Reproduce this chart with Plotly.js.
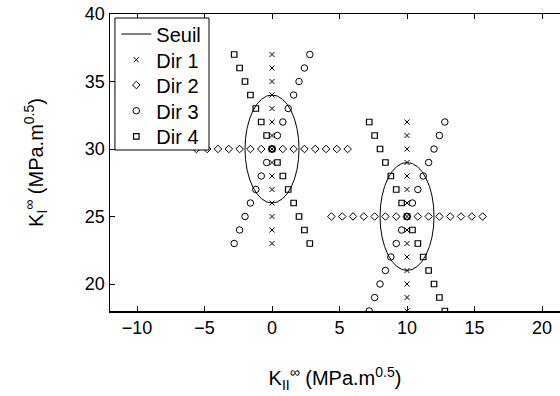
<!DOCTYPE html>
<html>
<head>
<meta charset="utf-8">
<script src="https://cdn.plot.ly/plotly-3.0.1.min.js"></script>
<style>
  html, body { margin: 0; padding: 0; background: #fff; }
  #chart { width: 560px; height: 396px; }
</style>
</head>
<body>
<div id="chart"></div>
<script>
// Threshold ellipses ("Seuil"): centres and semi-axes
const seuilCx = [0, 10];
const seuilCy = [30, 25];
const seuilA = [2, 2];
const seuilB = [4, 4];

// Dir 1 (vertical)
const dir1X = [0,0,0,0,0,0,0,0,0,0,0,0,0,0,0,
               10,10,10,10,10,10,10,10,10,10,10,10,10,10,10];
const dir1Y = [23,24,25,26,27,28,29,30,31,32,33,34,35,36,37,
               18,19,20,21,22,23,24,25,26,27,28,29,30,31,32];

// Dir 2 (horizontal)
const dir2X = [-5.6,-4.8,-4.0,-3.2,-2.4,-1.6,-0.8,0,0.8,1.6,2.4,3.2,4.0,4.8,5.6,
               4.4,5.2,6.0,6.8,7.6,8.4,9.2,10,10.8,11.6,12.4,13.2,14.0,14.8,15.6];
const dir2Y = [30,30,30,30,30,30,30,30,30,30,30,30,30,30,30,
               25,25,25,25,25,25,25,25,25,25,25,25,25,25,25];

// Dir 3 (oblique, rising to the right)
const dir3X = [-2.8,-2.4,-2.0,-1.6,-1.2,-0.8,-0.4,0,0.4,0.8,1.2,1.6,2.0,2.4,2.8,
               7.2,7.6,8.0,8.4,8.8,9.2,9.6,10,10.4,10.8,11.2,11.6,12.0,12.4,12.8];
const dir3Y = [23,24,25,26,27,28,29,30,31,32,33,34,35,36,37,
               18,19,20,21,22,23,24,25,26,27,28,29,30,31,32];

// Dir 4 (oblique, rising to the left)
const dir4X = [2.8,2.4,2.0,1.6,1.2,0.8,0.4,0,-0.4,-0.8,-1.2,-1.6,-2.0,-2.4,-2.8,
               12.8,12.4,12.0,11.6,11.2,10.8,10.4,10,9.6,9.2,8.8,8.4,8.0,7.6,7.2];
const dir4Y = [23,24,25,26,27,28,29,30,31,32,33,34,35,36,37,
               18,19,20,21,22,23,24,25,26,27,28,29,30,31,32];

const seriesNames = ['Seuil', 'Dir 1', 'Dir 2', 'Dir 3', 'Dir 4'];
const xTicks = [-10, -5, 0, 5, 10, 15, 20];
const yTicks = [20, 25, 30, 35, 40];

const FONT = 'Liberation Sans, Arial, Helvetica, sans-serif';

const traces = [
  { x: [null], y: [null], mode: 'lines', name: seriesNames[0], legend: 'legend',
    line: { color: '#000', width: 1 } },
  { x: dir1X, y: dir1Y, mode: 'markers', name: seriesNames[1], legend: 'legend2',
    marker: { symbol: 'x-thin-open', size: 5, color: '#000', line: { color: '#000', width: 1 } } },
  { x: dir2X, y: dir2Y, mode: 'markers', name: seriesNames[2], legend: 'legend3',
    marker: { symbol: 'diamond-open', size: 5.8, color: '#000', line: { color: '#000', width: 1 } } },
  { x: dir3X, y: dir3Y, mode: 'markers', name: seriesNames[3], legend: 'legend4',
    marker: { symbol: 'circle-open', size: 6.5, color: '#000', line: { color: '#000', width: 1 } } },
  { x: dir4X, y: dir4Y, mode: 'markers', name: seriesNames[4], legend: 'legend5',
    marker: { symbol: 'square-open', size: 5.5, color: '#000', line: { color: '#000', width: 1.2 } } }
];

// Threshold ellipses drawn on the data axes
const shapes = seuilCx.map((cx, i) => ({
  type: 'circle', xref: 'x', yref: 'y',
  x0: cx - seuilA[i], x1: cx + seuilA[i],
  y0: seuilCy[i] - seuilB[i], y1: seuilCy[i] + seuilB[i],
  line: { color: '#000', width: 1 }, layer: 'above'
}));
// Legend box (white, framed) behind the legend entries
shapes.push({
  type: 'rect', xref: 'paper', yref: 'paper',
  x0: 0.011, x1: 0.22, y0: 0.542, y1: 0.9865,
  fillcolor: '#fff', line: { color: '#000', width: 1 }, layer: 'above'
});

// One legend per entry so that the MATLAB-like tight row spacing can be matched
const legendRowsY = [0.9327, 0.8461, 0.7609, 0.6744, 0.5882];
function legendAt(y) {
  return {
    x: 0.014, y: y, xanchor: 'left', yanchor: 'middle',
    bgcolor: 'rgba(0,0,0,0)', borderwidth: 0,
    font: { family: FONT, size: 20, color: '#000' },
    itemwidth: 30
  };
}

const layout = {
  width: 560, height: 396,
  margin: { l: 110, r: 0, t: 14, b: 85 },
  paper_bgcolor: '#fff', plot_bgcolor: '#fff',
  font: { family: FONT, color: '#000', size: 18 },
  showlegend: true,
  legend: legendAt(legendRowsY[0]),
  legend2: legendAt(legendRowsY[1]),
  legend3: legendAt(legendRowsY[2]),
  legend4: legendAt(legendRowsY[3]),
  legend5: legendAt(legendRowsY[4]),
  xaxis: {
    range: [-12, 21.33], tickvals: xTicks, ticktext: xTicks.map(v => v < 0 ? '\u2212' + Math.abs(v) : String(v)),
    ticks: 'inside', ticklen: 5, tickwidth: 1, tickcolor: '#000',
    showline: true, linecolor: '#000', linewidth: 1.5, mirror: 'ticks',
    showgrid: false, zeroline: false,
    tickfont: { family: FONT, size: 18 },
    title: { text: 'K<sub>II</sub><sup>\u221E</sup> (MPa.m<sup>0.5</sup>)', font: { family: FONT, size: 20 }, standoff: 34 }
  },
  yaxis: {
    range: [18, 40], tickvals: yTicks,
    ticks: 'inside', ticklen: 5, tickwidth: 1, tickcolor: '#000',
    showline: true, linecolor: '#000', linewidth: 1.5, mirror: false,
    showgrid: false, zeroline: false,
    tickfont: { family: FONT, size: 18 },
    title: { text: 'K<sub>I</sub><sup>\u221E</sup> (MPa.m<sup>0.5</sup>)', font: { family: FONT, size: 20 }, standoff: 36 }
  },
  shapes: shapes
};

Plotly.newPlot('chart', traces, layout, { displayModeBar: false, staticPlot: true });
</script>
</body>
</html>
